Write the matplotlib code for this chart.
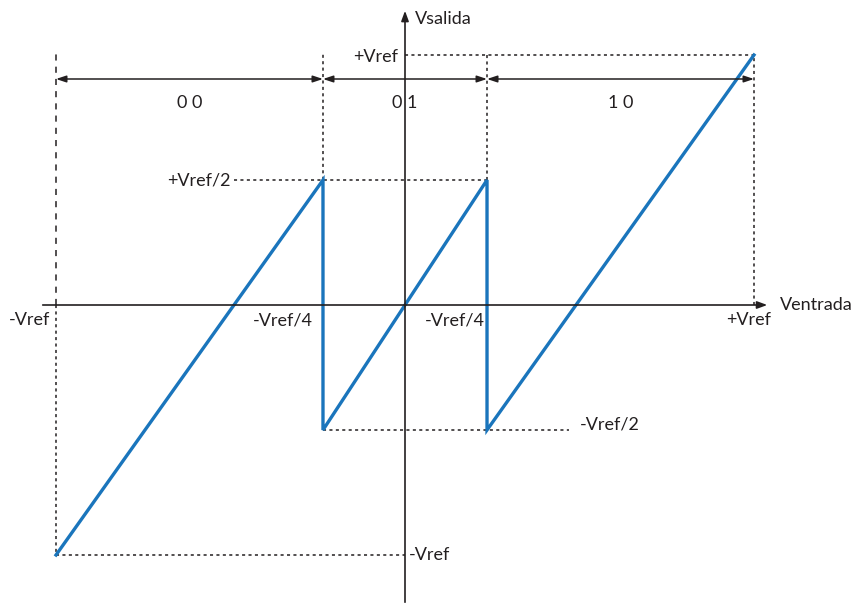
import numpy as np
import matplotlib
matplotlib.use('Agg')
import matplotlib.pyplot as plt

plt.rcParams['font.family'] = ['Lato', 'DejaVu Sans']

# transfer characteristic (in units of Vref)
vin = [-1.0, -0.235, -0.235, 0.235, 0.235, 1.0]
vout = [-1.0, 0.5, -0.5, 0.5, -0.5, 1.0]

# codes for each input range
code_edges = [-1.0, -0.235, 0.235, 1.0]
code_labels = ['0 0', '0 1', '1 0']

x_tick_labels = ['-Vref', '-Vref/4', '-Vref/4', '+Vref']
x_label_pos = [-1.077, -0.35, 0.143, 0.986]

blue = '#1a75bc'
ink = '#231f20'
fs = 13

fig = plt.figure(figsize=(8.58, 6.03), dpi=100)
ax = fig.add_axes([0, 0, 1, 1])
ax.set_xlim(-405 / 349, 453 / 349)
ax.set_ylim(-298 / 250, 305 / 250)
ax.axis('off')

# axes with arrows
ax.annotate('', xy=(1.046, 0), xytext=(-1.046, 0),
            arrowprops=dict(arrowstyle='-|>,head_length=0.6,head_width=0.22', color=ink, lw=1.2))
ax.annotate('', xy=(0, 1.188), xytext=(0, -1.2),
            arrowprops=dict(arrowstyle='-|>,head_length=0.6,head_width=0.22', color=ink, lw=1.2))
ax.text(1.075, 0, 'Ventrada', ha='left', va='center', fontsize=fs, color=ink)
ax.text(0.028, 1.145, 'Vsalida', ha='left', va='center', fontsize=fs, color=ink)

dot = dict(color=ink, lw=1.1, ls=(0, (2, 2.2)))

# guide lines
ax.plot([code_edges[0]] * 2, [0, 1.01], color=ink, lw=1.1, ls=(0, (4, 4)))
ax.plot([code_edges[0]] * 2, [0, vout[0]], **dot)
ax.plot([code_edges[1]] * 2, [vout[2], 1.01], **dot)
ax.plot([code_edges[2]] * 2, [vout[3], 1.01], **dot)
ax.plot([code_edges[3]] * 2, [0, vout[-1]], **dot)
ax.plot([0, vin[-1]], [vout[-1]] * 2, **dot)
ax.plot([-0.49, vin[3]], [vout[1]] * 2, **dot)
ax.plot([vin[2], 0.47], [vout[2]] * 2, **dot)
ax.plot([vin[0], 0], [vout[0]] * 2, **dot)

# dimension arrows and codes
y_dim = 0.904
for a, b, lab in zip(code_edges[:-1], code_edges[1:], code_labels):
    ax.annotate('', xy=(b, y_dim), xytext=(a, y_dim),
                arrowprops=dict(arrowstyle='<|-|>,head_length=0.6,head_width=0.2',
                                color=ink, lw=1.1, shrinkA=0, shrinkB=0))
    ax.text((a + b) / 2, 0.808, lab, ha='center', va='center', fontsize=fs, color=ink)

# characteristic
ax.plot(vin, vout, color=blue, lw=2.4, solid_joinstyle='miter')

# labels
for xp, lab in zip(x_label_pos, x_tick_labels):
    ax.text(xp, -0.06, lab, ha='center', va='center', fontsize=fs, color=ink)
ax.text(-0.02, 0.99, '+Vref', ha='right', va='center', fontsize=fs, color=ink)
ax.text(-0.5, 0.5, '+Vref/2', ha='right', va='center', fontsize=fs, color=ink)
ax.text(0.5, -0.48, '-Vref/2', ha='left', va='center', fontsize=fs, color=ink)
ax.text(0.01, -1.0, '-Vref', ha='left', va='center', fontsize=fs, color=ink)

fig.savefig('out.png', dpi=100)
plt.close(fig)
